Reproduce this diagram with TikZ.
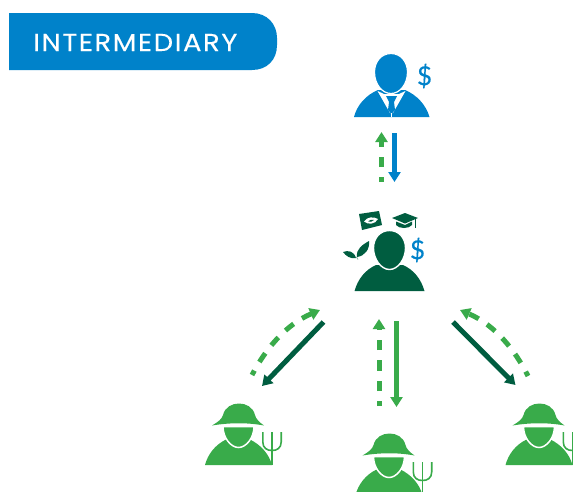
\documentclass[tikz,border=0pt]{standalone}
\usepackage{fontspec}
\setmainfont[FakeStretch=1.12,LetterSpace=6.5,FakeBold=0.25]{Poppins}
\newfontfamily\dollarfont[FakeBold=0.4]{Lato}
\usetikzlibrary{arrows.meta}
\definecolor{ibanner}{HTML}{0082CA}
\definecolor{igreen}{HTML}{39AB4A}
\definecolor{idark}{HTML}{005D40}
\tikzset{
  solidarrow/.style={line width=5pt,-{Triangle[width=12pt,length=10pt]}},
  dasharrow/.style={line width=5pt,igreen,dash pattern=on 10.5pt off 10pt,dash phase=5.5pt,-{Triangle[width=12pt,length=10pt,sep=0pt]}},
  dollar/.style={inner sep=0pt,font=\dollarfont\fontsize{26}{26}\selectfont,text=ibanner},
  banner/.style={inner sep=0pt,text=white,font=\fontsize{24.5}{24.5}\selectfont},
  farmer/.pic={
    \fill[igreen] (-33,61) .. controls (-30,50) and (-23,41) .. (-12,35.5) -- (12,35.5) .. controls (23,41) and (31,50) .. (34,61) -- cycle;
    \fill[igreen,draw=white,line width=1.5pt] (-15,22.5) -- (16,22.5) .. controls (16,34) and (8,43.5) .. (0.5,43.5) .. controls (-7,43.5) and (-15,34) .. (-15,22.5) -- cycle;
    \fill[igreen] (-26,21.5) .. controls (-20,18) and (-16,15) .. (-15,11) .. controls (-13,3) and (-6,-0.5) .. (1,-0.5) .. controls (8,-0.5) and (15,3) .. (17,11) .. controls (18,15) and (21,18) .. (26,21.5) .. controls (10,18.5) and (-8,18.5) .. (-26,21.5) -- cycle;
    \draw[igreen,line width=1.6pt] (24.8,28) -- (24.8,38) .. controls (24.8,44) and (29,46.5) .. (34,46.5) .. controls (39,46.5) and (43.2,44) .. (43.2,38) -- (43.2,28);
    \draw[igreen,line width=1.6pt] (34,28) -- (34,61);
  }
}
\begin{document}
\begin{tikzpicture}[x=1pt,y=-1pt]
\useasboundingbox (0,0) rectangle (573,491);
% banner
\fill[ibanner] (9,13) -- (252,13) .. controls (267,13) and (277,24) .. (277,38) -- (277,45) .. controls (277,60) and (267,70) .. (252,70) -- (9,70) -- cycle;
\node[banner,anchor=base west] (title) at (33,51) {INTERMEDIARY};

% investor
\fill[ibanner] (354,117) .. controls (357,105) and (366,95) .. (378,90) -- (405,90) .. controls (417,95) and (426,105) .. (429.5,117) -- cycle;
\fill[ibanner,draw=white,line width=1.2pt] (391,53.5) .. controls (401,53.5) and (407.5,62) .. (407.5,72) .. controls (407.5,84) and (400,93.5) .. (391,93.5) .. controls (382,93.5) and (374.5,84) .. (374.5,72) .. controls (374.5,62) and (381,53.5) .. (391,53.5) -- cycle;
\fill[white] (377.5,91) -- (384,94) -- (399,94) -- (405.5,91) -- (393,113) -- (390,113) -- cycle;
\fill[ibanner] (386,96) -- (397,96) -- (394,102) -- (395,110) -- (391.5,114) -- (388,110) -- (389,102) -- cycle;
\draw[white,line width=0.8pt] (391.5,113) -- (391.5,117);
\node[dollar] (investordollar) at (424.5,76) {\$};

% investor arrows
\coordinate (a1) at (394.5,133); \coordinate (a2) at (394.5,182);
\coordinate (b1) at (381.5,182); \coordinate (b2) at (381.5,132);
\draw[solidarrow,ibanner] (a1) -- (a2);
\draw[dasharrow] (b1) -- (b2);

% intermediary
\fill[idark] (354.5,291) .. controls (358,279) and (365,270) .. (376,265) -- (403,265) .. controls (414,270) and (421,279) .. (424.5,291) -- cycle;
\fill[idark,draw=white,line width=1.4pt] (389.5,230.5) .. controls (399,230.5) and (405.5,238) .. (405.5,248) .. controls (405.5,259) and (398,269.5) .. (389.5,269.5) .. controls (381,269.5) and (373.5,259) .. (373.5,248) .. controls (373.5,238) and (380,230.5) .. (389.5,230.5) -- cycle;
\node[dollar] (interdollar) at (417.5,250) {\$};
% diploma
\fill[idark] (359,214) -- (379,211) -- (382,225) -- (362,230) -- cycle;
\fill[white] (364,221.5) .. controls (367,216.5) and (374,216.5) .. (378,219) .. controls (375,224.5) and (368,225) .. (364,221.5) -- cycle;
\fill[idark] (368,221.3) .. controls (370,219.5) and (372,219.5) .. (374,220) .. controls (372,222) and (370,222.3) .. (368,221.3) -- cycle;
% cap
\fill[idark] (392,218) -- (405,213) -- (418,218) -- (405,223.5) -- cycle;
\fill[idark] (396,221.5) -- (405,225) -- (412,221.5) -- (412,225) .. controls (409,229) and (399,229) .. (396,225) -- cycle;
\draw[idark,line width=0.7pt] (415.5,219) -- (415.5,228);
% plant
\fill[idark] (357,257) .. controls (356,249) and (362,245) .. (369,241) .. controls (370,249) and (365,256) .. (357,257) -- cycle;
\fill[idark] (343,252) .. controls (348,250) and (354,251) .. (356,258) .. controls (350,259) and (346,256) .. (343,252) -- cycle;
\draw[idark!50,line width=0.8pt] (356.5,257) -- (358,259.5);

% farmers
\coordinate (f1) at (238,404); \coordinate (f2) at (388.5,434); \coordinate (f3) at (538.5,404);
\pic at (f1) {farmer};
\pic at (f2) {farmer};
\pic at (f3) {farmer};

% left arrows
\coordinate (c1) at (323.5,322); \coordinate (c2) at (262,386);
\coordinate (d1) at (252,375); \coordinate (d2) at (320,310);
\draw[solidarrow,idark] (c1) -- (c2);
\draw[dasharrow] (d1) .. controls (265,350) and (285,325) .. (d2);

% centre arrows
\coordinate (e1) at (396.5,321); \coordinate (e2) at (396.5,407);
\coordinate (g1) at (379,406); \coordinate (g2) at (379,319);
\draw[solidarrow,igreen] (e1) -- (e2);
\draw[dasharrow] (g1) -- (g2);

% right arrows
\coordinate (h1) at (453,322); \coordinate (h2) at (515.5,385);
\coordinate (i1) at (528,376); \coordinate (i2) at (460,310);
\draw[solidarrow,idark] (h1) -- (h2);
\draw[dasharrow] (i1) .. controls (515,350) and (495,325) .. (i2);
\end{tikzpicture}
\end{document}
